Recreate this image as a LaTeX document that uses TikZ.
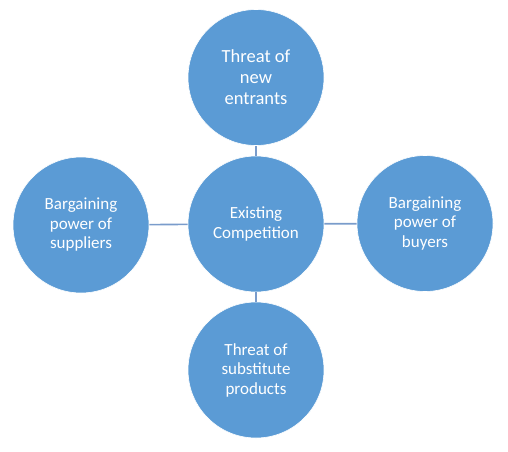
\documentclass[tikz,border=0pt]{standalone}
\usepackage{fontspec}
\setmainfont{Carlito}
\definecolor{circfill}{HTML}{5B9BD5}
\definecolor{linkcol}{HTML}{7A9CCB}
\begin{document}
\begin{tikzpicture}[x=1pt,y=1pt,
  force/.style={circle,fill=circfill,draw=white,line width=0.6pt,minimum size=136pt,inner sep=0pt,
    text=white,align=center,font=\fontsize{17}{19.5}\selectfont},
  bigtext/.style={font=\fontsize{18.5}{21}\selectfont},
  link/.style={draw=linkcol,line width=1.6pt}]
\useasboundingbox (0,0) rectangle (508,451);
\node[force] (c) at (256,227) {Existing\\Competition};
\node[force,bigtext] (t) at (256,373.5) {Threat of\\new\\entrants};
\node[force] (b) at (256,81) {Threat of\\substitute\\products};
\node[force] (l) at (81,226) {Bargaining\\power of\\suppliers};
\node[force] (r) at (425,227.5) {Bargaining\\power of\\buyers};
\draw[link] (c) -- (t);
\draw[link] (c) -- (b);
\draw[link] (c) -- (l);
\draw[link] (c) -- (r);
\end{tikzpicture}
\end{document}
